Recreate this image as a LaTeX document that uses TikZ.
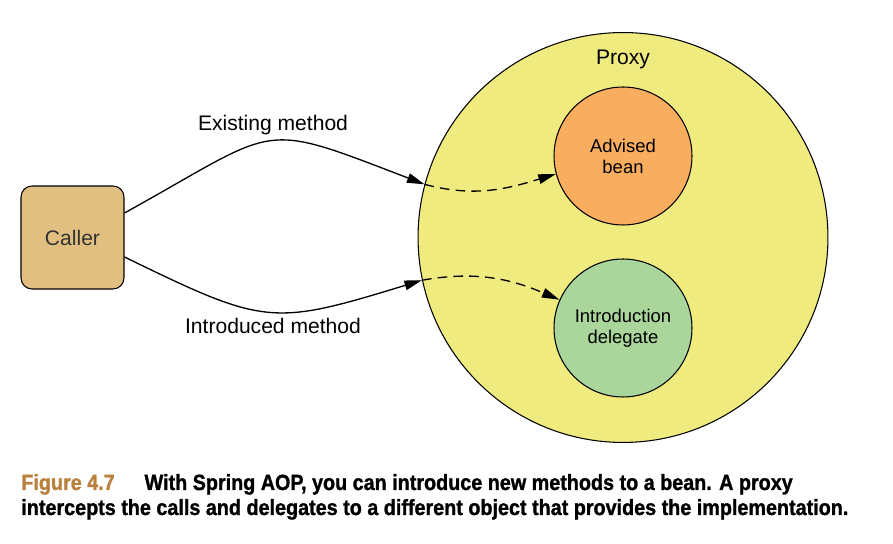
\documentclass[tikz,border=0pt]{standalone}
\usepackage{fontspec}
\setmainfont{Liberation Sans}
\newfontfamily\capfont[FakeStretch=0.9,FakeBold=1.2]{Liberation Sans}
\usetikzlibrary{arrows.meta,positioning}

\definecolor{callerfill}{HTML}{E1BF80}
\definecolor{proxyfill}{HTML}{F0EB7E}
\definecolor{beanfill}{HTML}{F9AD5E}
\definecolor{delegatefill}{HTML}{AAD69B}
\definecolor{figbrown}{HTML}{B9803E}

\begin{document}
\begin{tikzpicture}[x=0.02cm,y=0.02cm,
		callerbox/.style={draw,line width=0.6pt,rounded corners=0.22cm,fill=callerfill,
			minimum size=2.06cm,text=black!80,font=\fontsize{12}{14}\selectfont},
		ball/.style={circle,draw,line width=0.6pt,minimum size=2.76cm,inner sep=0pt,
			align=center,font=\fontsize{10.5}{12}\selectfont},
		call/.style={-{Triangle[length=10pt,width=5.5pt]},line width=0.75pt},
		inside/.style={call,dash pattern=on 5.5pt off 3.5pt},
		lbl/.style={font=\fontsize{12}{14}\selectfont},
		caption/.style={anchor=base west,inner sep=0pt,font=\capfont\bfseries\fontsize{12.5}{14}\selectfont}]

		\useasboundingbox (0,0) rectangle (893,544);

		% proxy with its two objects
		\node[circle,draw,line width=0.6pt,fill=proxyfill,minimum size=8.2cm] (proxy) at (623,306.5) {};
		\node[lbl] (proxylbl) at (623,485) {Proxy};
		\node[ball,fill=beanfill] (bean) at (623,388) {Advised\\bean};
		\node[ball,fill=delegatefill] (delegate) at (623,216) {Introduction\\delegate};

		\node[callerbox] (caller) at (72.5,306.5) {Caller};

		% the two calls
		\draw[call] ([yshift=0.49cm]caller.east) .. controls +(29:180) and +(159:180) .. (proxy.165);
		\draw[inside] (proxy.165) to[out=-15,in=197] (bean.195);
		\draw[call] ([yshift=-0.39cm]caller.east) .. controls +(-26:157) and +(197:157) .. (proxy.192);
		\draw[inside] (proxy.192) to[out=10,in=157] (delegate.156);

		\node[lbl] (existing) at (273,419) {Existing method};
		\node[lbl] (introduced) at (273,218) {Introduced method};

		% caption
		\node[caption] (cap1) at (21,54) {\textcolor{figbrown}{Figure 4.7}\hspace{17pt}With Spring AOP, you can introduce new methods to a bean. A proxy};
		\node[caption] (cap2) at (21,29) {intercepts the calls and delegates to a different object that provides the implementation.};

	\end{tikzpicture}
\end{document}
